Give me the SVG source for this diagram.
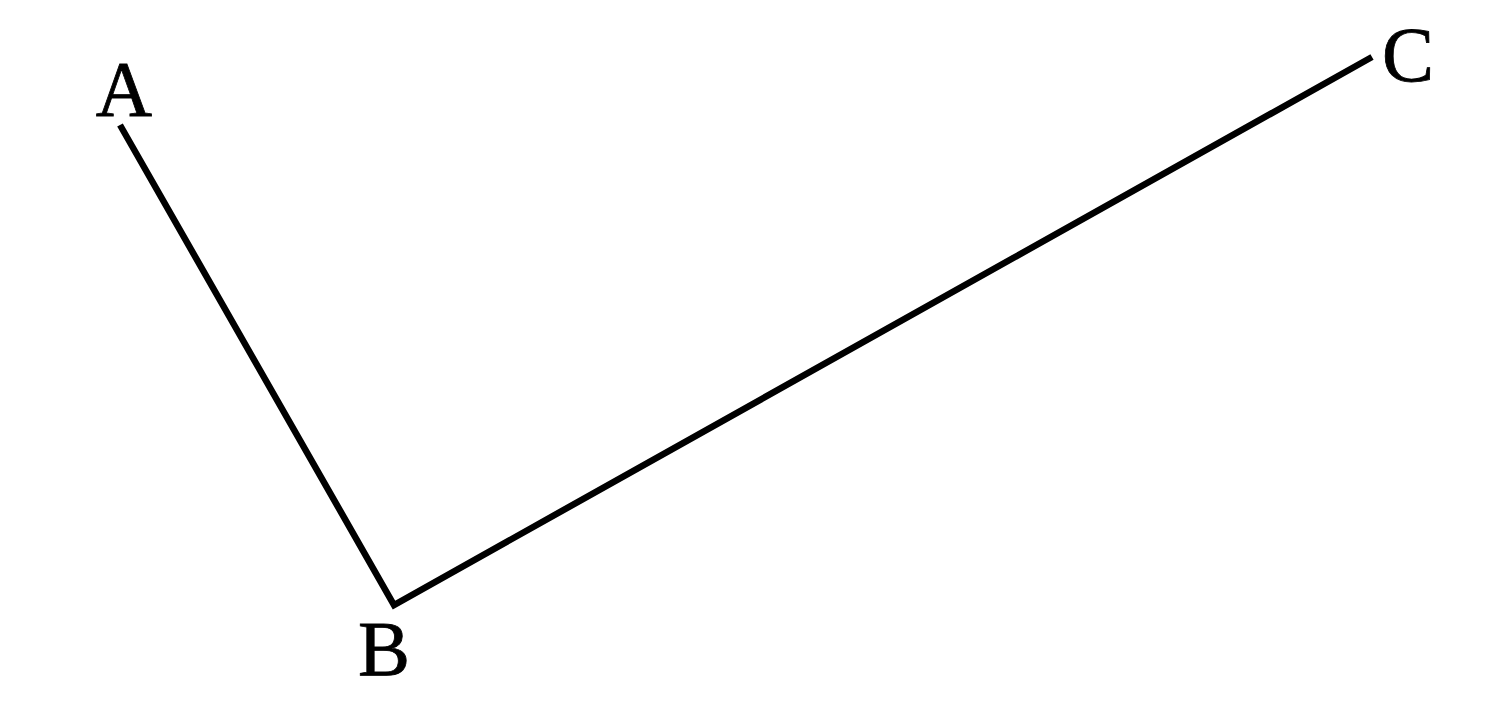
<svg xmlns="http://www.w3.org/2000/svg" width="1505" height="704" viewBox="0 0 1505 704">
<style>
.lbl{font-family:"Liberation Serif","DejaVu Serif",serif;font-size:78px;fill:#000;stroke:#000;stroke-width:0.8;text-anchor:middle}
.edge{fill:none;stroke:#000;stroke-width:6.5;stroke-linejoin:miter;stroke-linecap:butt}
</style>
<rect width="1505" height="704" fill="#fff"/>
<g id="connectors">
<polyline class="edge" points="120,125 394,605 1372,57"/>
</g>
<g id="node-A"><text class="lbl" x="124" y="115">A</text></g>
<g id="node-B"><text class="lbl" x="384" y="675">B</text></g>
<g id="node-C"><text class="lbl" x="1408" y="81">C</text></g>
</svg>
